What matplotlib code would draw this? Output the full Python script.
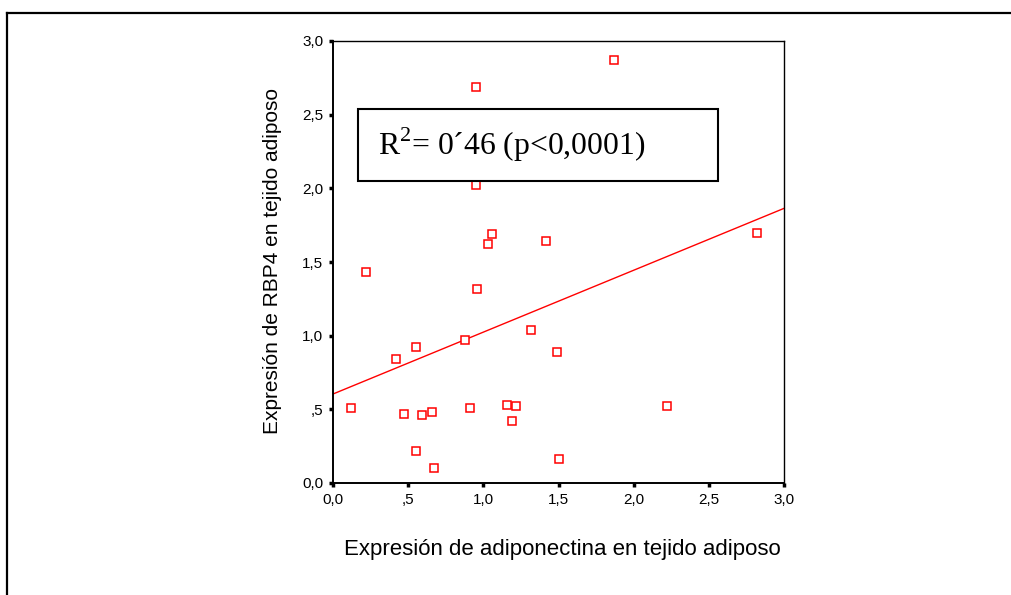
# Dispersión: adiponectina vs RBP4 en tejido adiposo

import numpy as np
import matplotlib
matplotlib.use("Agg")
from matplotlib import pyplot as plt
from matplotlib.patches import Rectangle
from matplotlib.lines import Line2D

# --------------------------------------------
# Datos
# --------------------------------------------
adiponectina = [0.12, 0.22, 0.96, 0.42, 0.55, 0.88, 1.32, 0.47, 0.59, 0.66,
                0.91, 1.16, 1.22, 1.19, 0.55, 0.67, 0.95, 0.95, 1.06, 1.03,
                1.87, 1.42, 2.82, 1.49, 2.22, 1.50]
rbp4 = [0.51, 1.43, 1.32, 0.84, 0.92, 0.97, 1.04, 0.47, 0.46, 0.48,
        0.51, 0.53, 0.52, 0.42, 0.22, 0.10, 2.69, 2.02, 1.69, 1.62,
        2.87, 1.64, 1.70, 0.89, 0.52, 0.16]

# recta de regresión
intercepto = 0.604
pendiente = 0.42

ticks = [0.0, 0.5, 1.0, 1.5, 2.0, 2.5, 3.0]
tick_labels = ["0,0", ",5", "1,0", "1,5", "2,0", "2,5", "3,0"]

texto_r2 = r"R$^{\mathrm{2}}$= 0´46 (p<0,0001)"
xlabel = "Expresión de adiponectina en tejido adiposo"
ylabel = "Expresión de RBP4 en tejido adiposo"

# --------------------------------------------
# Figura
# --------------------------------------------
plt.rcParams["font.family"] = ["Liberation Sans", "DejaVu Sans"]
plt.rcParams["mathtext.fontset"] = "custom"
plt.rcParams["mathtext.rm"] = "Liberation Serif"

W, H = 1011, 595
fig = plt.figure(figsize=(W / 100, H / 100), dpi=100)
ax = fig.add_axes([333 / W, 1 - 483 / H, 451 / W, 442 / H])

# marco exterior (sólo izquierda y arriba visibles)
fig.add_artist(Line2D([7 / W, 7 / W], [0, 1 - 13 / H], transform=fig.transFigure,
                      color="black", lw=1.6))
fig.add_artist(Line2D([7 / W, 1], [1 - 13 / H, 1 - 13 / H], transform=fig.transFigure,
                      color="black", lw=1.6))

# puntos
ax.plot(adiponectina, rbp4, linestyle="none", marker="s", markersize=5.5,
        markerfacecolor="white", markeredgecolor="red", markeredgewidth=1.1,
        zorder=3)

# recta
xs = np.array([0.0, 3.0])
ax.plot(xs, intercepto + pendiente * xs, color="red", lw=1.0, zorder=2)

ax.set_xlim(0, 3)
ax.set_ylim(0, 3)
ax.set_xticks(ticks)
ax.set_xticklabels(tick_labels)
ax.set_yticks(ticks)
ax.set_yticklabels(tick_labels)
ax.tick_params(direction="out", length=3, width=2.5, labelsize=11)
ax.tick_params(axis="x", pad=4)
ax.tick_params(axis="y", pad=4)

for s in ["left", "bottom"]:
    ax.spines[s].set_linewidth(1.4)
for s in ["top", "right"]:
    ax.spines[s].set_linewidth(1.0)

# recuadro con R2
ax.add_patch(Rectangle((25 / 451, 302 / 442), 360 / 451, 72 / 442,
                       transform=ax.transAxes, fill=False, edgecolor="black",
                       lw=1.5, zorder=4))
ax.text(45 / 451, (483 - 145) / 442, texto_r2, transform=ax.transAxes,
        fontsize=22.8, family="Liberation Serif", va="center", ha="left", zorder=5)

# etiquetas de ejes
fig.text(272 / W, 1 - 261 / H, ylabel, rotation=90, ha="center", va="center",
         fontsize=15)
fig.text(562 / W, 1 - 550 / H, xlabel, ha="center", va="center", fontsize=16)

fig.savefig("out.png", dpi=100)
